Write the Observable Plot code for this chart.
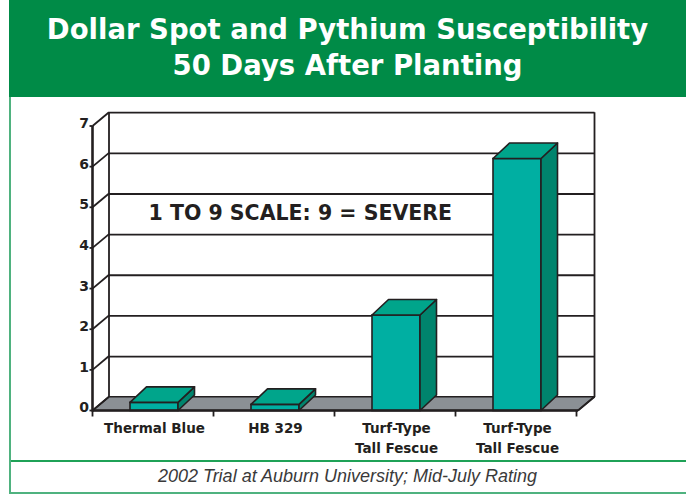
<!DOCTYPE html>
<html><head><meta charset="utf-8">
<script src="https://cdn.jsdelivr.net/npm/d3@7"></script>
<script src="https://cdn.jsdelivr.net/npm/@observablehq/plot@0.6"></script>
<style>
body{margin:0;background:#fff;}
#wrap{position:relative;width:686px;height:498px;overflow:hidden;background:#fff;}
#header{position:absolute;left:9px;top:0;width:677px;height:97px;background:#008b47;}
#title{position:absolute;left:9px;width:677px;top:12px;text-align:center;color:#fff;font-family:"DejaVu Sans",sans-serif;font-weight:bold;font-size:27.5px;line-height:35.7px;white-space:nowrap;}
#lborder{position:absolute;left:9px;top:97px;width:2px;height:397px;background:#4fb27f;}
#bborder{position:absolute;left:9px;top:492px;width:677px;height:2px;background:#4fb27f;}
#sep{position:absolute;left:11px;top:460px;width:675px;height:1.6px;background:#1fa257;}
#caption{position:absolute;left:9px;width:677px;top:465.5px;text-align:center;color:#3a3a3a;font-family:"Liberation Sans",Arial,sans-serif;font-style:italic;font-size:18px;line-height:20px;white-space:nowrap;}
#chart{position:absolute;left:11px;top:97px;}
</style>
</head><body>
<div id="wrap">
  <div id="header"></div>
  <div id="title"></div>
  <div id="chart"></div>
  <div id="sep"></div>
  <div id="caption"></div>
  <div id="lborder"></div>
  <div id="bborder"></div>
</div>
<script>
const keys = ["Thermal Blue", "HB 329", "Tall Fescue A", "Tall Fescue B"];
const labelLine1 = ["Thermal Blue", "HB 329", "Turf-Type", "Turf-Type"];
const labelLine2 = ["", "", "Tall Fescue", "Tall Fescue"];
const ratings = [0.2, 0.15, 2.35, 6.2];
const yTicks = [0, 1, 2, 3, 4, 5, 6, 7];
const titleLines = ["Dollar Spot and Pythium Susceptibility", "50 Days After Planting"];
const note = "1 TO 9 SCALE: 9 = SEVERE";
const captionText = "2002 Trial at Auburn University; Mid-July Rating";

document.getElementById("title").innerHTML = titleLines.join("<br>");
document.getElementById("caption").textContent = captionText;

const data = keys.map((k, i) => ({key: k, value: ratings[i], l1: labelLine1[i], l2: labelLine2[i]}));

const W = 675, H = 363;
const DX = 16.5, DY = -13.8;   // back-wall depth
const BX = 16.5, BY = -15.5;   // bar depth
const ink = "#231f20";
const cFront = "#00afa2", cTop = "#00a58b", cSide = "#00846d", cFloor = "#8b9095";

const chart = Plot.plot({
  width: W, height: H,
  marginLeft: 81.5, marginRight: 108, marginTop: 29, marginBottom: 49.5,
  style: {background: "transparent", overflow: "visible", fontFamily: "DejaVu Sans, sans-serif"},
  x: {type: "band", domain: keys, paddingInner: 0.6, paddingOuter: 0.3, axis: null},
  y: {domain: [0, 7], axis: null},
  marks: [
    Plot.ruleY(yTicks, {y: d => d, dx: DX, dy: DY, stroke: ink, strokeWidth: 1.8}),
    Plot.rectY(data, {x: "key", y: "value", fill: cFront, stroke: ink, strokeWidth: 1.6}),
    Plot.text(yTicks, {y: d => d, text: d => String(d), frameAnchor: "left", textAnchor: "end", dx: -4, dy: -3, fontSize: 14, fontWeight: "bold", fill: ink}),
    Plot.text(data, {x: "key", y: () => 0, text: "l1", dy: 18, fontSize: 13.5, fontWeight: "bold", fill: ink}),
    Plot.text(data, {x: "key", y: () => 0, text: "l2", dy: 37.4, fontSize: 13.5, fontWeight: "bold", fill: ink}),
    Plot.text([note], {y: () => 4.85, text: d => d, frameAnchor: "left", textAnchor: "start", dx: 55.5, fontSize: 20.5, fontWeight: "bold", fill: ink})
  ]
});
document.getElementById("chart").appendChild(chart);

// 3-D decoration drawn through Plot's own scales
const xs = chart.scale("x"), ys = chart.scale("y");
const left = xs.range[0], right = xs.range[1];
const step = xs.step != null ? xs.step : (right - left) / keys.length;
const bw = xs.bandwidth != null ? xs.bandwidth : step * 0.4;
const y0 = ys.apply(0), yTop = ys.apply(7);
const svg = d3.select(chart);
const poly = pts => "M" + pts.map(p => p.join(",")).join("L") + "Z";

// floor under the bars
const rectG = chart.querySelector('g[aria-label="rect"]');
const floorG = document.createElementNS("http://www.w3.org/2000/svg", "g");
if (rectG) chart.insertBefore(floorG, rectG); else chart.appendChild(floorG);
d3.select(floorG).append("path")
  .attr("d", poly([[left, y0], [right, y0], [right + DX, y0 + DY], [left + DX, y0 + DY]]))
  .attr("fill", cFloor).attr("stroke", ink).attr("stroke-width", 1.6).attr("stroke-linejoin", "round");
// back wall verticals
d3.select(floorG).append("line")
  .attr("x1", left + DX).attr("x2", left + DX).attr("y1", y0 + DY).attr("y2", yTop + DY)
  .attr("stroke", ink).attr("stroke-width", 1.8);
d3.select(floorG).append("line")
  .attr("x1", right + DX).attr("x2", right + DX).attr("y1", y0 + DY).attr("y2", yTop + DY)
  .attr("stroke", ink).attr("stroke-width", 1.8);

const over = svg.append("g");
data.forEach(d => {
  const x0 = xs.apply(d.key), x1 = x0 + bw, yv = ys.apply(d.value);
  over.append("path")
    .attr("d", poly([[x1, yv], [x1 + BX, yv + BY], [x1 + BX, y0 + BY], [x1, y0]]))
    .attr("fill", cSide).attr("stroke", ink).attr("stroke-width", 1.6).attr("stroke-linejoin", "round");
  over.append("path")
    .attr("d", poly([[x0, yv], [x1, yv], [x1 + BX, yv + BY], [x0 + BX, yv + BY]]))
    .attr("fill", cTop).attr("stroke", ink).attr("stroke-width", 1.6).attr("stroke-linejoin", "round");
});
// diagonal connectors and small y ticks
yTicks.forEach(t => {
  const yy = ys.apply(t);
  over.append("line").attr("x1", left).attr("y1", yy).attr("x2", left + DX).attr("y2", yy + DY)
    .attr("stroke", ink).attr("stroke-width", 1.8);
  over.append("line").attr("x1", left - 3).attr("y1", yy).attr("x2", left).attr("y2", yy)
    .attr("stroke", ink).attr("stroke-width", 1.8);
});
// front floor edge + right diagonal
over.append("line").attr("x1", left).attr("y1", y0).attr("x2", right).attr("y2", y0)
  .attr("stroke", ink).attr("stroke-width", 2.6);
over.append("line").attr("x1", right).attr("y1", y0).attr("x2", right + DX).attr("y2", y0 + DY)
  .attr("stroke", ink).attr("stroke-width", 1.8);
// front y axis line
over.append("line").attr("x1", left).attr("y1", y0 + 1).attr("x2", left).attr("y2", yTop)
  .attr("stroke", ink).attr("stroke-width", 2.6);
// x ticks at category boundaries
for (let i = 0; i <= keys.length; i++) {
  const xx = left + i * step;
  over.append("line").attr("x1", xx).attr("x2", xx).attr("y1", y0).attr("y2", y0 + 6)
    .attr("stroke", ink).attr("stroke-width", 1.8);
}
</script>
</body></html>
